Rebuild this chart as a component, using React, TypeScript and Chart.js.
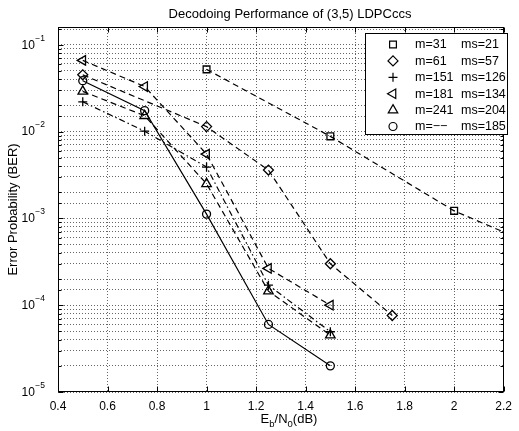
import React, { useEffect, useRef } from 'react';
import { Chart, registerables } from 'chart.js';
import { drawPoint } from 'chart.js/helpers';

Chart.register(...registerables);

const TITLE = 'Decodoing Performance of (3,5) LDPCccs';
const Y_LABEL = 'Error Probability (BER)';
const X_MIN = 0.4;
const X_MAX = 2.2;
const X_STEP = 0.2;
const Y_MIN = 1e-5;
const Y_MAX = 0.16;

// m=31 ms=21
const xM31 = [1, 1.5, 2, 2.5];
const yM31 = [0.052, 0.0088, 0.00122, 0.0003];
// m=61 ms=57
const xM61 = [0.5, 1, 1.25, 1.5, 1.75];
const yM61 = [0.045, 0.0114, 0.0036, 0.0003, 0.000076];
// shared Eb/N0 points for the remaining codes
const xCommon = [0.5, 0.75, 1, 1.25, 1.5];
const yM151 = [0.022, 0.0101, 0.0039, 0.00017, 0.0000494];
const yM181 = [0.066, 0.033, 0.0055, 0.000265, 0.0001];
const yM241 = [0.029, 0.0152, 0.0025, 0.000145, 0.0000452];
const yMdash = [0.0385, 0.0174, 0.00112, 0.00006, 0.00002];

const legendM = ['m=31', 'm=61', 'm=151', 'm=181', 'm=241', 'm=\u2212\u2212'];
const legendMs = ['ms=21', 'ms=57', 'ms=126', 'ms=134', 'ms=204', 'ms=185'];

const FONT = '"Liberation Sans", Arial, Helvetica, sans-serif';

const zip = (xs: number[], ys: number[]) => xs.map((x, i) => ({ x, y: ys[i] }));

const markers = [
  { pointStyle: 'rect', radius: 4.8, rotation: 0, dash: [6, 4] },
  { pointStyle: 'rectRot', radius: 5, rotation: 0, dash: [6, 4] },
  { pointStyle: 'cross', radius: 4.5, rotation: 0, dash: [6, 3, 1.5, 3] },
  { pointStyle: 'triangle', radius: 5.5, rotation: -90, dash: [6, 4] },
  { pointStyle: 'triangle', radius: 5.5, rotation: 0, dash: [6, 4] },
  { pointStyle: 'circle', radius: 4, rotation: 0, dash: [] },
];

const isMajor = (v: number) => {
  const l = Math.log10(v);
  return Math.abs(l - Math.round(l)) < 1e-6;
};

const matlabPlugin = {
  id: 'matlabDecor',
  afterDraw(chart: any) {
    const { ctx, chartArea: a, scales } = chart;
    const xs = scales.x;
    const ys = scales.y;
    const L = Math.round(a.left) + 0.5;
    const R = Math.round(a.right) - 0.5;
    const T = Math.round(a.top) + 0.5;
    const B = Math.round(a.bottom) - 0.5;
    ctx.save();
    ctx.strokeStyle = '#000';
    ctx.lineWidth = 1;
    ctx.setLineDash([]);
    // box
    ctx.strokeRect(L, T, R - L, B - T);
    // inward ticks
    ctx.beginPath();
    xs.ticks.forEach((t: any) => {
      const px = Math.round(xs.getPixelForValue(t.value)) + 0.5;
      ctx.moveTo(px, B);
      ctx.lineTo(px, B - 5);
      ctx.moveTo(px, T);
      ctx.lineTo(px, T + 5);
    });
    ys.ticks.forEach((t: any) => {
      if (t.value > Y_MAX * 0.999) return;
      const len = isMajor(t.value) ? 5 : 3;
      const py = Math.round(ys.getPixelForValue(t.value)) + 0.5;
      ctx.moveTo(L, py);
      ctx.lineTo(L + len, py);
      ctx.moveTo(R, py);
      ctx.lineTo(R - len, py);
    });
    ctx.stroke();

    ctx.fillStyle = '#000';
    // y tick labels 10^n
    ys.ticks.forEach((t: any) => {
      if (!isMajor(t.value)) return;
      const e = Math.round(Math.log10(t.value));
      const py = ys.getPixelForValue(t.value);
      const expStr = (e < 0 ? '\u2212' : '') + Math.abs(e);
      ctx.textAlign = 'right';
      ctx.textBaseline = 'middle';
      ctx.font = `8.5px ${FONT}`;
      const ew = ctx.measureText(expStr).width;
      const right = 45;
      ctx.fillText(expStr, right, py - 6.5);
      ctx.font = `12px ${FONT}`;
      ctx.fillText('10', right - ew - 0.5, py + 0.5);
    });

    // title
    ctx.textAlign = 'center';
    ctx.textBaseline = 'alphabetic';
    ctx.font = `13px ${FONT}`;
    ctx.fillText(TITLE, 290, 17.5);

    // y label
    ctx.save();
    ctx.translate(13, (a.top + a.bottom) / 2);
    ctx.rotate(-Math.PI / 2);
    ctx.textAlign = 'center';
    ctx.textBaseline = 'middle';
    ctx.font = `13px ${FONT}`;
    ctx.fillText(Y_LABEL, 0, 0);
    ctx.restore();

    // x label E_b/N_0(dB)
    const parts: [string, boolean][] = [['E', false], ['b', true], ['/N', false], ['0', true], ['(dB)', false]];
    const big = `13px ${FONT}`;
    const small = `9.5px ${FONT}`;
    let total = 0;
    parts.forEach(([s, sub]) => {
      ctx.font = sub ? small : big;
      total += ctx.measureText(s).width;
    });
    let cx = 289 - total / 2;
    ctx.textAlign = 'left';
    ctx.textBaseline = 'alphabetic';
    parts.forEach(([s, sub]) => {
      ctx.font = sub ? small : big;
      ctx.fillText(s, cx, sub ? 426.5 : 422.5);
      cx += ctx.measureText(s).width;
    });

    // legend
    const lx0 = 365.5, ly0 = 33.5, lx1 = 507.5, ly1 = 134.5;
    ctx.fillStyle = '#fff';
    ctx.fillRect(lx0, ly0, lx1 - lx0, ly1 - ly0);
    ctx.strokeStyle = '#000';
    ctx.lineWidth = 1;
    ctx.strokeRect(lx0, ly0, lx1 - lx0, ly1 - ly0);
    legendM.forEach((m, i) => {
      const y = 44.5 + i * 16.4;
      const mk = markers[i];
      ctx.save();
      ctx.fillStyle = 'rgba(0,0,0,0)';
      ctx.strokeStyle = '#000';
      ctx.lineWidth = 1.2;
      ctx.setLineDash([]);
      drawPoint(ctx, { pointStyle: mk.pointStyle, radius: mk.radius, rotation: mk.rotation, borderWidth: 1.2 } as any, 393, y);
      ctx.restore();
      ctx.fillStyle = '#000';
      ctx.font = `12.5px ${FONT}`;
      ctx.textAlign = 'left';
      ctx.textBaseline = 'middle';
      ctx.fillText(m, 415, y + 0.5);
      ctx.fillText(legendMs[i], 461, y + 0.5);
    });
    ctx.restore();
  },
};

export default function App() {
  const ref = useRef<HTMLCanvasElement | null>(null);
  useEffect(() => {
    if (!ref.current) return;
    const series = [
      zip(xM31, yM31),
      zip(xM61, yM61),
      zip(xCommon, yM151),
      zip(xCommon, yM181),
      zip(xCommon, yM241),
      zip(xCommon, yMdash),
    ];
    const datasets = series.map((data, i) => ({
      label: `${legendM[i]} ${legendMs[i]}`,
      data,
      borderColor: '#000',
      borderWidth: 1.2,
      borderDash: markers[i].dash,
      backgroundColor: 'rgba(0,0,0,0)',
      fill: false,
      tension: 0,
      pointStyle: markers[i].pointStyle as any,
      pointRadius: markers[i].radius,
      pointRotation: markers[i].rotation,
      pointBorderColor: '#000',
      pointBackgroundColor: 'rgba(0,0,0,0)',
      pointBorderWidth: 1.3,
      clip: 0,
    }));
    const chart = new Chart(ref.current, {
      type: 'line',
      data: { datasets },
      options: {
        animation: false,
        responsive: false,
        devicePixelRatio: 1,
        layout: { padding: { top: 27, right: 11, left: 0, bottom: 0 } },
        plugins: {
          legend: { display: false },
          title: { display: false },
          tooltip: { enabled: false },
        },
        scales: {
          x: {
            type: 'linear',
            min: X_MIN,
            max: X_MAX,
            afterFit: (s: any) => { s.height = 39; },
            ticks: {
              stepSize: X_STEP,
              autoSkip: false,
              maxRotation: 0,
              padding: 7,
              color: '#000',
              font: { family: FONT, size: 12 },
              callback: (v: any) => String(Math.round(Number(v) * 10) / 10),
            },
            grid: { color: 'rgba(0,0,0,0.6)', lineWidth: 1, drawTicks: false },
            border: { display: false, dash: [1, 2] },
          },
          y: {
            type: 'logarithmic',
            min: Y_MIN,
            max: Y_MAX,
            afterFit: (s: any) => { s.width = 58; },
            ticks: { display: false, autoSkip: false },
            grid: { color: 'rgba(0,0,0,0.6)', lineWidth: 1, drawTicks: false },
            border: { display: false, dash: [1, 2] },
          },
        },
      },
      plugins: [matlabPlugin],
    } as any);
    return () => chart.destroy();
  }, []);
  return (
    <div style={{ position: 'absolute', left: 0, top: 0, width: 519, height: 431 }}>
      <canvas ref={ref} width={519} height={431} style={{ display: 'block', width: 519, height: 431 }} />
    </div>
  );
}
